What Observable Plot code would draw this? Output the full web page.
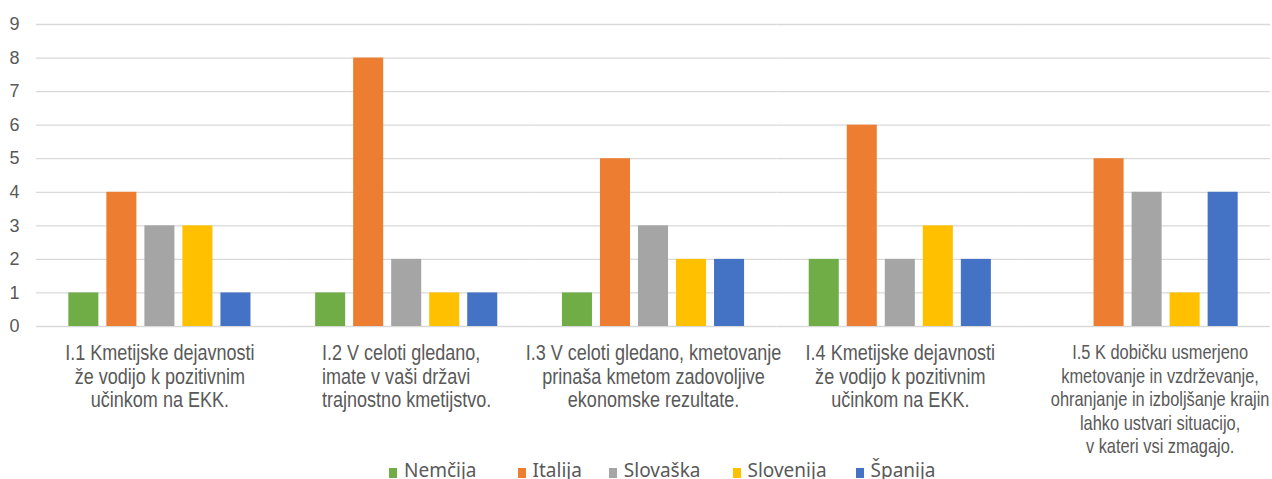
<!DOCTYPE html>
<html>
<head>
<meta charset="utf-8">
<script src="https://cdn.jsdelivr.net/npm/d3@7"></script>
<script src="https://cdn.jsdelivr.net/npm/@observablehq/plot@0.6"></script>
<style>
  html, body { margin: 0; padding: 0; background: #fff; }
  #chart { width: 1272px; height: 479px; position: relative; overflow: hidden; }
  #chart svg { position: absolute; left: 0; top: 0; }
  #legend {
    position: absolute; left: 389px; top: 459px; height: 23px;
    display: flex; align-items: center;
    font-family: "Noto Sans", "Open Sans", sans-serif; font-size: 19px; color: #595959;
    line-height: 23px; white-space: nowrap;
  }
  #legend .item { display: flex; align-items: center; }
  #legend .item:nth-child(1) { margin-right: 41px; }
  #legend .item:nth-child(2) { margin-right: 27px; }
  #legend .item:nth-child(3) { margin-right: 32px; }
  #legend .item:nth-child(4) { margin-right: 29px; }
  #legend .sw { width: 8px; height: 10px; margin-right: 7px; margin-top: 4px; }
</style>
</head>
<body>
<div id="chart"></div>
<script>
const questions = ["I.1", "I.2", "I.3", "I.4", "I.5"];
const questionLabels = [
  "I.1 Kmetijske dejavnosti\nže vodijo k pozitivnim\nučinkom na EKK.",
  "I.2 V celoti gledano,\nimate v vaši državi\ntrajnostno kmetijstvo.",
  "I.3 V celoti gledano, kmetovanje\nprinaša kmetom zadovoljive\nekonomske rezultate.",
  "I.4 Kmetijske dejavnosti\nže vodijo k pozitivnim\nučinkom na EKK.",
  "I.5 K dobičku usmerjeno\nkmetovanje in vzdrževanje,\nohranjanje in izboljšanje krajin\nlahko ustvari situacijo,\nv kateri vsi zmagajo."
];
const countries = ["Nemčija", "Italija", "Slovaška", "Slovenija", "Španija"];
const colors = ["#70ad47", "#ed7d31", "#a5a5a5", "#ffc000", "#4472c4"];
const nemcija   = [1, 1, 1, 2, 0];
const italija   = [4, 8, 5, 6, 5];
const slovaska  = [3, 2, 3, 2, 4];
const slovenija = [3, 1, 2, 3, 1];
const spanija   = [1, 1, 2, 2, 4];
const yTicks = [0, 1, 2, 3, 4, 5, 6, 7, 8, 9];

const seriesValues = [nemcija, italija, slovaska, slovenija, spanija];
const data = [];
questions.forEach((q, qi) => {
  countries.forEach((c, ci) => {
    data.push({ q, country: c, value: seriesValues[ci][qi] });
  });
});
const labelOf = new Map(questions.map((q, i) => [q, questionLabels[i]]));

const plot = Plot.plot({
  width: 1272,
  height: 462,
  marginLeft: 36,
  marginRight: 2,
  marginTop: 24,
  marginBottom: 136,
  style: { fontFamily: "'Liberation Sans', Arial, sans-serif", fontSize: "18px", color: "#595959", background: "transparent" },
  fx: { domain: questions, padding: 0, round: false, label: null },
  x: { domain: countries, paddingInner: 0.21, paddingOuter: 0.85, round: false, axis: null },
  y: { domain: [0, 9], ticks: yTicks, label: null },
  color: { domain: countries, range: colors },
  marks: [
    Plot.ruleY(yTicks, { stroke: "#d9d9d9", strokeWidth: 1.3 }),
    Plot.barY(data, { fx: "q", x: "country", y: "value", fill: "country" }),
    Plot.axisY({ ticks: yTicks, tickSize: 0, tickPadding: 17, label: null, fontSize: 18 }),
    Plot.axisFx({
      anchor: "bottom",
      tickSize: 0, tickPadding: 17, label: null,
      tickFormat: (d) => labelOf.get(d),
      fontSize: 22, lineHeight: 1.07,
      fontFamily: "'Liberation Sans', Arial, sans-serif",
      className: "fxlabels"
    })
  ]
});
const chart = document.getElementById("chart");
chart.appendChild(plot);

// narrow-face look for category labels, plus Excel-like alignment quirks
plot.querySelectorAll(".fxlabels text, g[aria-label='fx-axis tick label'] text").forEach((t) => {
  const tr = t.getAttribute("transform") || "";
  if (/scale/.test(tr)) return;
  const txt = t.textContent || "";
  if (txt.startsWith("I.5")) {
    t.setAttribute("font-size", "20.5");
    t.style.fontSize = "20.5px";
    t.querySelectorAll("tspan").forEach((s, i) => { if (i > 0) s.setAttribute("dy", "1.15em"); });
    t.setAttribute("transform", tr + " translate(13,0) scale(0.80,1)");
  } else if (txt.startsWith("I.2")) {
    const bb = t.getBBox();
    t.setAttribute("text-anchor", "start");
    t.querySelectorAll("tspan").forEach((s) => s.setAttribute("x", bb.x));
    t.setAttribute("transform", tr + " scale(0.82,1)");
  } else {
    t.setAttribute("transform", tr + " scale(0.82,1)");
  }
});

const legend = document.createElement("div");
legend.id = "legend";
countries.forEach((c, i) => {
  const item = document.createElement("div");
  item.className = "item";
  const sw = document.createElement("span");
  sw.className = "sw";
  sw.style.background = colors[i];
  const t = document.createElement("span");
  t.textContent = c;
  item.appendChild(sw);
  item.appendChild(t);
  legend.appendChild(item);
});
chart.appendChild(legend);
</script>
</body>
</html>
